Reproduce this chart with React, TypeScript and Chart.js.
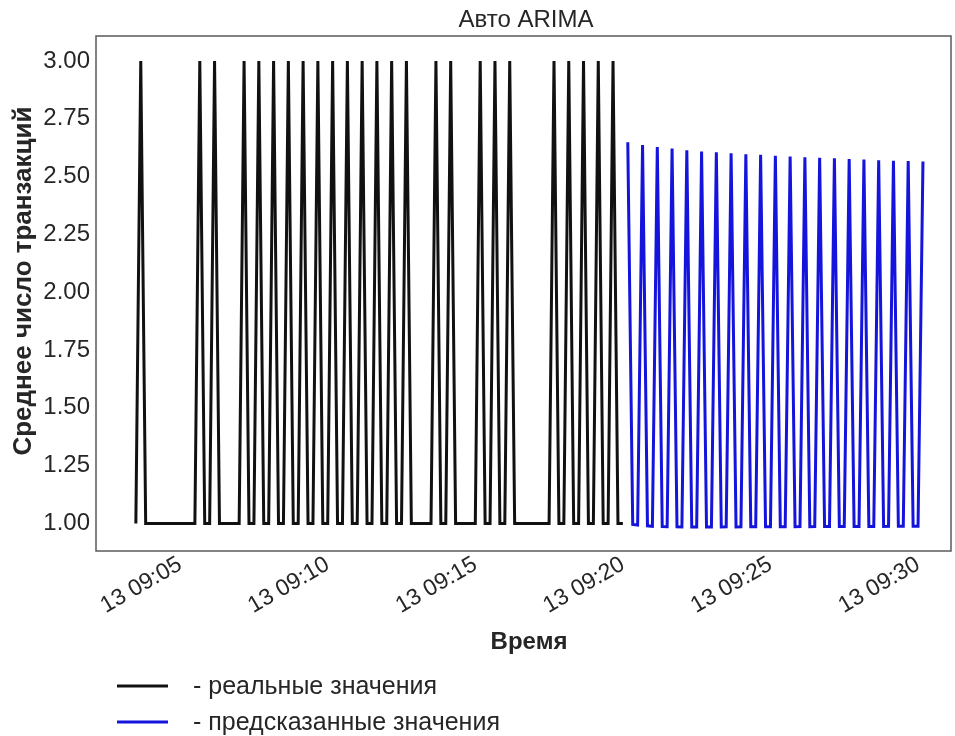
import React, { useEffect, useRef } from "react";
import { Chart, registerables } from "chart.js";

Chart.register(...registerables);

// ---- texts ----
const TITLE = "Авто ARIMA";
const Y_TITLE = "Среднее число транзакций";
const X_TITLE = "Время";
const REAL_LABEL = "- реальные значения";
const PRED_LABEL = "- предсказанные значения";

// ---- time axis (10 s sampling) ----
const TICK_DAY = "13";
const TICK_TIMES = ["09:05", "09:10", "09:15", "09:20", "09:25", "09:30"];
const BASE_TIME = "09:05:00";
const REAL_START = "09:03:30";
const PRED_START = "09:20:10";
const STEP_SEC = 10;
const X_MIN = "09:02:09";
const X_MAX = "09:31:07";

// ---- y axis ----
const Y_TICKS = [1.0, 1.25, 1.5, 1.75, 2.0, 2.25, 2.5, 2.75, 3.0];
const Y_MIN = 0.881;
const Y_MAX = 3.108;

// ---- series ----
const realValues = [
  1, 3, 1, 1, 1, 1, 1, 1, 1, 1, 1, 1, 1,
  3, 1, 1,
  3, 1, 1, 1, 1, 1,
  3, 1, 1,
  3, 1, 1,
  3, 1, 1,
  3, 1, 1,
  3, 1, 1,
  3, 1, 1,
  3, 1, 1,
  3, 1, 1,
  3, 1, 1,
  3, 1, 1,
  3, 1, 1,
  3, 1, 1, 1, 1, 1,
  3, 1, 1,
  3, 1, 1, 1, 1, 1,
  3, 1, 1,
  3, 1, 1,
  3, 1, 1, 1, 1, 1, 1, 1, 1,
  3, 1, 1,
  3, 1, 1,
  3, 1, 1,
  3, 1, 1,
  3, 1, 1,
];

const predValues = [
  2.649, 0.996, 0.993,
  2.637, 0.99, 0.988,
  2.628, 0.987, 0.986,
  2.621, 0.986, 0.985,
  2.614, 0.985, 0.985,
  2.609, 0.985, 0.985,
  2.605, 0.985, 0.986,
  2.601, 0.985, 0.986,
  2.597, 0.986, 0.986,
  2.594, 0.986, 0.986,
  2.59, 0.986, 0.986,
  2.587, 0.986, 0.987,
  2.584, 0.986, 0.987,
  2.581, 0.987, 0.987,
  2.579, 0.987, 0.987,
  2.576, 0.987, 0.987,
  2.574, 0.987, 0.987,
  2.571, 0.987, 0.988,
  2.569, 0.988, 0.988,
  2.567, 0.988, 0.988,
  2.565,
];

const REAL_COLOR = "#111111";
const PRED_COLOR = "#1414dc";
const TEXT_COLOR = "#262626";
const FONT_FAMILY = '"Liberation Sans", Arial, sans-serif';

function toSec(t: string): number {
  const p = t.split(":").map(Number);
  return p[0] * 3600 + p[1] * 60 + (p[2] || 0);
}
const BASE = toSec(BASE_TIME);
const rel = (t: string) => toSec(t) - BASE;

function fmtTick(v: number): string {
  const s = BASE + v;
  const h = Math.floor(s / 3600);
  const m = Math.floor((s % 3600) / 60);
  return `${TICK_DAY} ${String(h).padStart(2, "0")}:${String(m).padStart(2, "0")}`;
}

const decorPlugin = {
  id: "decor",
  afterDraw(chart: any) {
    const { ctx, chartArea: a } = chart;
    ctx.save();
    ctx.strokeStyle = "#5a5a5a";
    ctx.lineWidth = 1.5;
    ctx.strokeRect(a.left, a.top, a.right - a.left, a.bottom - a.top);

    ctx.fillStyle = TEXT_COLOR;
    ctx.textAlign = "center";
    ctx.textBaseline = "middle";
    ctx.font = `24px ${FONT_FAMILY}`;
    ctx.fillText(TITLE, 526, 20);

    ctx.font = `bold 24px ${FONT_FAMILY}`;
    ctx.fillText(X_TITLE, 529, 642);

    ctx.save();
    ctx.translate(24, 281);
    ctx.rotate(-Math.PI / 2);
    ctx.font = `bold 26px ${FONT_FAMILY}`;
    ctx.fillText(Y_TITLE, 0, 0);
    ctx.restore();

    // legend
    const ys = [686, 722];
    chart.data.datasets.forEach((ds: any, i: number) => {
      const y = ys[i];
      ctx.strokeStyle = ds.borderColor;
      ctx.lineWidth = 3;
      ctx.beginPath();
      ctx.moveTo(117, y);
      ctx.lineTo(168, y);
      ctx.stroke();
      ctx.fillStyle = TEXT_COLOR;
      ctx.font = `25px ${FONT_FAMILY}`;
      ctx.textAlign = "left";
      ctx.textBaseline = "middle";
      ctx.fillText(ds.label, 193, y + 1);
    });
    ctx.restore();
  },
};

export default function App() {
  const ref = useRef<HTMLCanvasElement | null>(null);

  useEffect(() => {
    if (!ref.current) return;
    const realStart = rel(REAL_START);
    const predStart = rel(PRED_START);
    const realData = realValues.map((v, i) => ({ x: realStart + i * STEP_SEC, y: v }));
    const predData = predValues.map((v, i) => ({ x: predStart + i * STEP_SEC, y: v }));
    const tickVals = TICK_TIMES.map((t) => rel(t));

    const chart = new Chart(ref.current, {
      type: "line",
      data: {
        datasets: [
          {
            label: REAL_LABEL,
            data: realData,
            borderColor: REAL_COLOR,
            borderWidth: 3,
            pointRadius: 0,
            tension: 0,
          },
          {
            label: PRED_LABEL,
            data: predData,
            borderColor: PRED_COLOR,
            borderWidth: 3,
            pointRadius: 0,
            tension: 0,
          },
        ],
      },
      options: {
        animation: false,
        responsive: true,
        maintainAspectRatio: false,
        layout: { padding: { left: 0, right: 4, top: 36, bottom: 105 } },
        plugins: {
          legend: { display: false },
          title: { display: false },
          tooltip: { enabled: false },
        },
        scales: {
          x: {
            type: "linear",
            min: rel(X_MIN),
            max: rel(X_MAX),
            grid: { display: false, drawTicks: false },
            border: { display: false },
            afterBuildTicks: (scale: any) => {
              scale.ticks = tickVals.map((v) => ({ value: v }));
            },
            afterFit: (scale: any) => {
              scale.height = 80;
            },
            ticks: {
              minRotation: 30,
              maxRotation: 30,
              autoSkip: false,
              padding: 0,
              color: TEXT_COLOR,
              font: { family: FONT_FAMILY, size: 23 },
              callback: (v: any) => fmtTick(Number(v)),
            },
          },
          y: {
            type: "linear",
            min: Y_MIN,
            max: Y_MAX,
            grid: { display: false, drawTicks: false },
            border: { display: false },
            afterBuildTicks: (scale: any) => {
              scale.ticks = Y_TICKS.map((v) => ({ value: v }));
            },
            afterFit: (scale: any) => {
              scale.width = 96;
            },
            ticks: {
              padding: 6,
              color: TEXT_COLOR,
              font: { family: FONT_FAMILY, size: 24 },
              callback: (v: any) => Number(v).toFixed(2),
            },
          },
        },
      },
      plugins: [decorPlugin],
    });
    return () => chart.destroy();
  }, []);

  return (
    <div style={{ position: "absolute", left: 0, top: 0, width: 955, height: 736, background: "#fff" }}>
      <canvas ref={ref} />
    </div>
  );
}
